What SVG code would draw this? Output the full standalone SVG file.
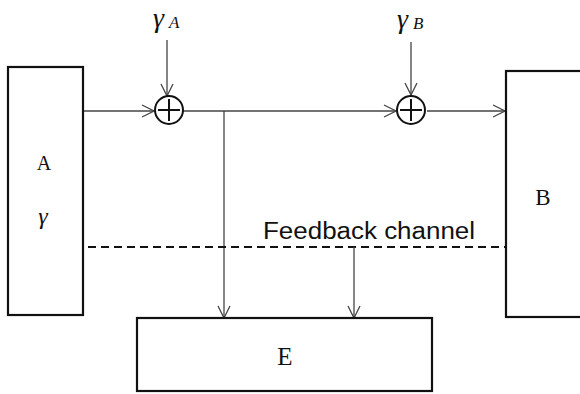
<svg xmlns="http://www.w3.org/2000/svg" width="580" height="394" viewBox="0 0 580 394">
  <style>
    .box { fill: #fff; stroke: #111; stroke-width: 2.2; }
    .sum { fill: #fff; stroke: #111; stroke-width: 2; }
    .plus { stroke: #111; stroke-width: 2; }
    .wire { fill: none; stroke: #444; stroke-width: 1.3; }
    .dash { fill: none; stroke: #111; stroke-width: 2.2; stroke-dasharray: 8 5; }
    .lbl { font-family: "Liberation Serif", "Times New Roman", serif; fill: #111; }
    .sym { font-family: "Liberation Serif", "Times New Roman", serif; font-style: italic; fill: #111; }
    .cap { font-family: "Liberation Sans", Arial, sans-serif; fill: #111; }
  </style>
  <defs>
    <marker id="arr" viewBox="0 0 14 14" refX="13" refY="7" markerWidth="14" markerHeight="14" markerUnits="userSpaceOnUse" orient="auto">
      <path d="M1,1 L13,7 L1,13" fill="none" stroke="#444" stroke-width="1.3"/>
    </marker>
  </defs>

  <rect width="580" height="394" fill="#fff"/>

  <g id="connectors">
    <!-- A to first adder -->
    <path class="wire" d="M83,111 H154" marker-end="url(#arr)"/>
    <!-- gamma_A into first adder -->
    <path class="wire" d="M167,40 V96" marker-end="url(#arr)"/>
    <!-- first adder to second adder -->
    <path class="wire" d="M183,111 H396" marker-end="url(#arr)"/>
    <!-- tap down to E -->
    <path class="wire" d="M224,111 V318" marker-end="url(#arr)"/>
    <!-- gamma_B into second adder -->
    <path class="wire" d="M411,42 V95" marker-end="url(#arr)"/>
    <!-- second adder to B -->
    <path class="wire" d="M427,111 H505" marker-end="url(#arr)"/>
    <!-- feedback channel -->
    <path class="dash" d="M88,247 H505"/>
    <!-- feedback leak to E -->
    <path class="wire" d="M354,247 V318" marker-end="url(#arr)"/>
  </g>

  <g id="node-A">
    <rect class="box" x="8" y="67" width="75" height="248"/>
    <text class="lbl" x="44" y="170" font-size="20" text-anchor="middle">A</text>
    <text class="sym" x="43" y="224" font-size="24" text-anchor="middle">γ</text>
  </g>

  <g id="node-B">
    <rect class="box" x="506" y="71" width="80" height="246"/>
    <text class="lbl" x="543" y="205" font-size="23" text-anchor="middle">B</text>
  </g>

  <g id="node-E">
    <rect class="box" x="137" y="318" width="295" height="73"/>
    <text class="lbl" x="285" y="365" font-size="25" text-anchor="middle">E</text>
  </g>

  <g id="adder-A">
    <circle class="sum" cx="169" cy="110" r="14"/>
    <path class="plus" d="M158,110 H180 M169,99 V121"/>
  </g>

  <g id="adder-B">
    <circle class="sum" cx="411" cy="110" r="14"/>
    <path class="plus" d="M400,110 H422 M411,99 V121"/>
  </g>

  <g id="label-gamma-A">
    <text class="sym" x="153" y="27" font-size="28">γ<tspan font-size="17" dx="5" dy="1">A</tspan></text>
  </g>

  <g id="label-gamma-B">
    <text class="sym" x="397" y="28" font-size="28">γ<tspan font-size="17" dx="5" dy="1">B</tspan></text>
  </g>

  <g id="label-feedback">
    <text class="cap" x="263" y="239" font-size="23" textLength="212" lengthAdjust="spacingAndGlyphs">Feedback channel</text>
  </g>
</svg>
